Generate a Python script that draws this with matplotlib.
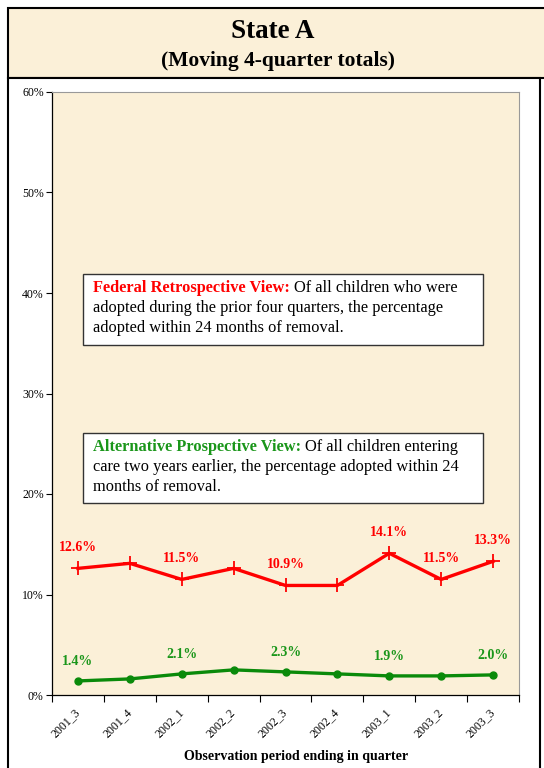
import matplotlib
matplotlib.use("Agg")
import matplotlib.pyplot as plt
from matplotlib.patches import Rectangle
from matplotlib.ticker import FuncFormatter

quarters = ["2001_3", "2001_4", "2002_1", "2002_2", "2002_3", "2002_4", "2003_1", "2003_2", "2003_3"]
federal = [12.6, 13.1, 11.5, 12.6, 10.9, 10.9, 14.1, 11.5, 13.3]
alternative = [1.4, 1.6, 2.1, 2.5, 2.3, 2.1, 1.9, 1.9, 2.0]
federal_labeled = [0, 2, 4, 6, 7, 8]
alternative_labeled = [0, 2, 4, 6, 8]
yticks = [0, 10, 20, 30, 40, 50, 60]

plt.rcParams['font.family'] = ['Liberation Serif', 'DejaVu Serif']
W, H = 544, 768
fig = plt.figure(figsize=(W / 100, H / 100), dpi=100)
fig.patch.set_facecolor('white')

parch = '#FBF0D8'
# Title box
fig.patches.append(Rectangle((8 / W, 1 - 78 / H), 1.0, 70 / H, transform=fig.transFigure,
                             facecolor=parch, edgecolor='black', lw=1.5, zorder=-2))
# Lower panel
fig.patches.append(Rectangle((8 / W, -0.01), 532 / W, 1 - 78 / H + 0.01, transform=fig.transFigure,
                             facecolor='white', edgecolor='black', lw=1.5, zorder=-2))

fig.text(273 / W, 1 - 32 / H, "State A", ha='center', va='center', fontsize=19.5, fontweight='bold')
fig.text(278 / W, 1 - 61 / H, "(Moving 4-quarter totals)", ha='center', va='center', fontsize=15.5,
         fontweight='bold')

ax = fig.add_axes([52 / W, 73 / H, 467 / W, (695 - 92) / H])
ax.set_zorder(1)
ax.set_facecolor(parch)
x = list(range(len(quarters)))
ax.plot(x, federal, color='#FF0000', lw=2.4, marker='+', markersize=10, mew=1.3, zorder=3)
ax.plot(x, alternative, color='#0A8A0A', lw=2.4, marker='o', markersize=5, zorder=3)

for i in federal_labeled:
    ax.annotate(f"{federal[i]:.1f}%", (x[i], federal[i]), xytext=(0, 15), textcoords='offset points',
                ha='center', va='center', color='#FF0000', fontsize=10, fontweight='bold')
for i in alternative_labeled:
    ax.annotate(f"{alternative[i]:.1f}%", (x[i], alternative[i]), xytext=(0, 14), textcoords='offset points',
                ha='center', va='center', color='#1A961A', fontsize=10, fontweight='bold')

ax.set_xlim(-0.5, len(quarters) - 0.5)
ax.set_ylim(0, 60)
ax.set_yticks(yticks)
ax.yaxis.set_major_formatter(FuncFormatter(lambda v, p: f"{int(v)}%"))
ax.tick_params(axis='y', labelsize=8.5, length=4, width=0.8, pad=2)
ax.set_xticks([i - 0.5 for i in range(len(quarters) + 1)], minor=False)
ax.set_xticklabels([""] * (len(quarters) + 1))
ax.set_xticks(x, minor=True)
ax.set_xticklabels(quarters, minor=True, rotation=45, ha='right', va='center', rotation_mode='anchor',
                   fontsize=8.5)
ax.tick_params(axis='x', which='major', length=5, width=0.8, direction='out')
ax.tick_params(axis='x', which='minor', length=0, pad=11)
ax.set_xlabel("Observation period ending in quarter", fontsize=10, fontweight='bold', labelpad=5)
ax.xaxis.set_label_coords((296 - 52) / 467, -0.092)
for s in ['top', 'right']:
    ax.spines[s].set_color('#999999')
    ax.spines[s].set_linewidth(0.8)
for s in ['left', 'bottom']:
    ax.spines[s].set_color('black')
    ax.spines[s].set_linewidth(0.9)

# Text boxes
FS = 11.8
def box(y_top, y_bot, head, head_color, body_lines):
    fig.patches.append(Rectangle((83 / W, 1 - y_bot / H), (483 - 83) / W, (y_bot - y_top) / H,
                                 transform=fig.transFigure, facecolor='white', edgecolor='#333333',
                                 lw=1.0, zorder=5))
    t = fig.text(93 / W, 1 - (y_top + 18) / H, head, ha='left', va='baseline', fontsize=FS,
                 fontweight='bold', color=head_color, zorder=6)
    fig.canvas.draw()
    bb = t.get_window_extent()
    fig.text(bb.x1 / W + 4 / W, 1 - (y_top + 18) / H, body_lines[0], ha='left', va='baseline',
             fontsize=FS, zorder=6)
    for k, line in enumerate(body_lines[1:], start=1):
        fig.text(93 / W, 1 - (y_top + 18 + 20 * k) / H, line, ha='left', va='baseline', fontsize=FS,
                 zorder=6)

box(274, 345, "Federal Retrospective View:", '#FF0000',
    ["Of all children who were", "adopted during the prior four quarters, the percentage",
     "adopted within 24 months of removal."])
box(433, 503, "Alternative Prospective View:", '#1A961A',
    ["Of all children entering", "care two years earlier, the percentage adopted within 24",
     "months of removal."])

fig.savefig("out.png", dpi=100)
